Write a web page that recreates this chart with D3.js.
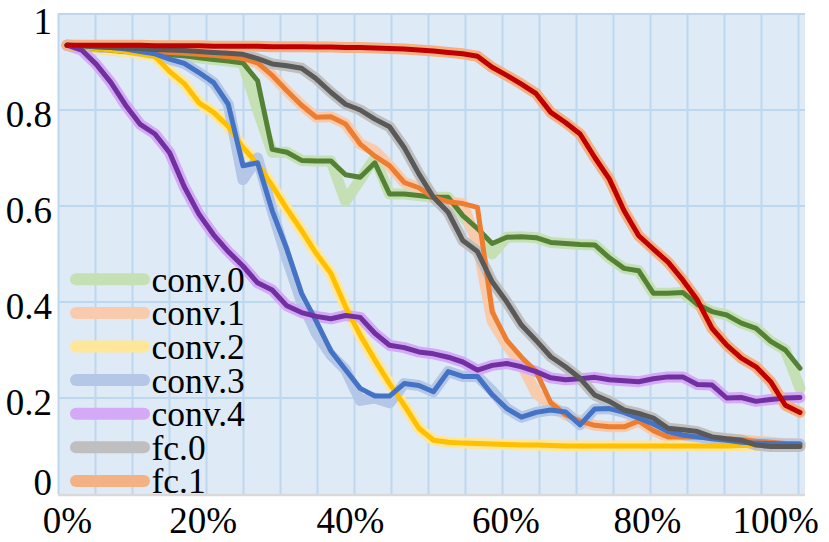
<!DOCTYPE html>
<html>
<head>
<meta charset="utf-8">
<script src="https://cdn.jsdelivr.net/npm/d3@7"></script>
<style>
  html, body { margin: 0; padding: 0; background: #fff; }
  svg text { font-family: "Liberation Serif", Tinos, "Times New Roman", "DejaVu Serif", serif; fill: #000; }
</style>
</head>
<body>
<div id="chart"></div>
<script>
// Pruned fraction (%) for each measurement
const pruned = [0, 2, 4, 6, 8, 10, 12, 14, 16, 18, 20, 22, 24, 26, 28, 30, 32, 34, 36, 38,
  40, 42, 44, 46, 48, 50, 52, 54, 56, 58, 60, 62, 64, 66, 68, 70, 72, 74, 76, 78,
  80, 82, 84, 86, 88, 90, 92, 94, 96, 98, 100];

// Smoothed curves (dark lines)
const conv0 = [0.935, 0.932, 0.928, 0.925, 0.922, 0.92, 0.918, 0.915, 0.913, 0.909,
  0.905, 0.902, 0.898, 0.861, 0.718, 0.712, 0.695, 0.694, 0.694, 0.665,
  0.66, 0.69, 0.625, 0.625, 0.622, 0.618, 0.618, 0.58, 0.553, 0.522,
  0.535, 0.536, 0.534, 0.524, 0.522, 0.52, 0.519, 0.492, 0.47, 0.465,
  0.418, 0.418, 0.42, 0.395, 0.38, 0.373, 0.356, 0.345, 0.318, 0.30, 0.262];
const conv1 = [0.935, 0.933, 0.93, 0.928, 0.926, 0.924, 0.922, 0.92, 0.918, 0.916,
  0.914, 0.911, 0.907, 0.898, 0.872, 0.84, 0.81, 0.785, 0.786, 0.771,
  0.729, 0.704, 0.684, 0.649, 0.638, 0.618, 0.609, 0.605, 0.597, 0.38,
  0.32, 0.285, 0.255, 0.19, 0.165, 0.152, 0.143, 0.14, 0.14, 0.152,
  0.132, 0.119, 0.119, 0.118, 0.117, 0.115, 0.113, 0.11, 0.108, 0.105, 0.104];
const conv2 = [0.935, 0.932, 0.928, 0.925, 0.922, 0.917, 0.912, 0.88, 0.855, 0.815,
  0.795, 0.766, 0.722, 0.688, 0.642, 0.594, 0.549, 0.501, 0.46, 0.39,
  0.331, 0.279, 0.23, 0.185, 0.137, 0.112, 0.108, 0.106, 0.105, 0.104,
  0.103, 0.102, 0.102, 0.101, 0.1, 0.1, 0.1, 0.1, 0.1, 0.1,
  0.1, 0.1, 0.1, 0.1, 0.1, 0.1, 0.101, 0.101, 0.101, 0.101, 0.101];
const conv3 = [0.935, 0.934, 0.932, 0.93, 0.927, 0.922, 0.917, 0.906, 0.897, 0.878,
  0.857, 0.812, 0.684, 0.69, 0.59, 0.51, 0.418, 0.36, 0.298, 0.259,
  0.22, 0.204, 0.204, 0.23, 0.226, 0.213, 0.255, 0.245, 0.245, 0.207,
  0.178, 0.16, 0.17, 0.175, 0.171, 0.144, 0.177, 0.178, 0.17, 0.158,
  0.146, 0.13, 0.123, 0.119, 0.115, 0.112, 0.108, 0.106, 0.105, 0.104, 0.104];
const conv4 = [0.935, 0.925, 0.895, 0.857, 0.81, 0.77, 0.75, 0.711, 0.64, 0.583,
  0.54, 0.505, 0.475, 0.44, 0.425, 0.392, 0.378, 0.37, 0.365, 0.372,
  0.368, 0.335, 0.31, 0.305, 0.296, 0.292, 0.285, 0.275, 0.258, 0.268,
  0.272, 0.265, 0.255, 0.242, 0.238, 0.24, 0.243, 0.238, 0.236, 0.234,
  0.24, 0.244, 0.244, 0.228, 0.227, 0.2, 0.201, 0.193, 0.197, 0.2, 0.201];
const fc0 = [0.935, 0.934, 0.932, 0.93, 0.929, 0.928, 0.926, 0.925, 0.924, 0.922,
  0.92, 0.918, 0.916, 0.907, 0.896, 0.892, 0.887, 0.865, 0.837, 0.812,
  0.80, 0.781, 0.765, 0.722, 0.667, 0.618, 0.587, 0.528, 0.505, 0.442,
  0.40, 0.352, 0.32, 0.286, 0.265, 0.241, 0.206, 0.193, 0.175, 0.168,
  0.158, 0.137, 0.134, 0.13, 0.119, 0.115, 0.112, 0.102, 0.099, 0.099, 0.099];
const fc1 = [0.935, 0.935, 0.935, 0.935, 0.935, 0.935, 0.934, 0.934, 0.934, 0.934,
  0.933, 0.933, 0.933, 0.933, 0.932, 0.932, 0.932, 0.931, 0.931, 0.93,
  0.93, 0.929, 0.928, 0.927, 0.925, 0.923, 0.92, 0.917, 0.912, 0.889,
  0.872, 0.854, 0.834, 0.795, 0.774, 0.75, 0.701, 0.656, 0.59, 0.538,
  0.51, 0.483, 0.446, 0.404, 0.345, 0.31, 0.283, 0.265, 0.234, 0.185, 0.17];

// Raw curves (pale lines) where they visibly differ from the smoothed ones
const conv0Raw = [0.935, 0.932, 0.928, 0.925, 0.922, 0.92, 0.918, 0.915, 0.913, 0.909,
  0.905, 0.902, 0.898, 0.80, 0.712, 0.712, 0.695, 0.694, 0.694, 0.61,
  0.655, 0.70, 0.625, 0.625, 0.622, 0.618, 0.618, 0.58, 0.54, 0.50,
  0.535, 0.536, 0.534, 0.524, 0.522, 0.52, 0.519, 0.492, 0.47, 0.465,
  0.418, 0.418, 0.42, 0.395, 0.38, 0.373, 0.356, 0.345, 0.318, 0.30, 0.22];
const conv1Raw = [0.935, 0.933, 0.93, 0.928, 0.926, 0.924, 0.922, 0.92, 0.918, 0.916,
  0.914, 0.911, 0.907, 0.898, 0.872, 0.84, 0.81, 0.785, 0.786, 0.771,
  0.729, 0.715, 0.684, 0.649, 0.638, 0.618, 0.609, 0.605, 0.52, 0.36,
  0.31, 0.27, 0.21, 0.185, 0.165, 0.152, 0.143, 0.14, 0.14, 0.152,
  0.132, 0.119, 0.119, 0.118, 0.117, 0.115, 0.113, 0.11, 0.108, 0.105, 0.104];
const conv3Raw = [0.935, 0.934, 0.932, 0.93, 0.927, 0.922, 0.917, 0.906, 0.897, 0.878,
  0.857, 0.812, 0.655, 0.70, 0.59, 0.49, 0.40, 0.335, 0.29, 0.259,
  0.195, 0.20, 0.19, 0.23, 0.226, 0.213, 0.255, 0.245, 0.245, 0.215,
  0.178, 0.16, 0.17, 0.175, 0.171, 0.144, 0.177, 0.178, 0.17, 0.158,
  0.146, 0.13, 0.123, 0.119, 0.115, 0.112, 0.108, 0.106, 0.105, 0.104, 0.104];

const names = ['conv.0', 'conv.1', 'conv.2', 'conv.3', 'conv.4', 'fc.0', 'fc.1'];
const darkValues = [conv0, conv1, conv2, conv3, conv4, fc0, fc1];
const paleValues = [conv0Raw, conv1Raw, conv2, conv3Raw, conv4, fc0, fc1];

const yTicks = [0, 0.2, 0.4, 0.6, 0.8, 1];
const xTickAt = [0, 18.5, 38.6, 59.8, 79.1, 96.6];
const xTickLabels = ['0%', '20%', '40%', '60%', '80%', '100%'];

// Colours
const DARK = ['#548235', '#ed7d31', '#ffc000', '#4472c4', '#7030a0', '#595959', '#c00000'];
const PALE = ['#c5e0b4', '#f8cbad', '#ffe699', '#b4c7e7', '#d4a9f5', '#bfbfbf', '#f4b183'];
const BG = '#deebf7';
const GRID = '#bdd7ee';

const W = 829, H = 542;
const plot = { left: 58, right: 805, top: 14, bottom: 494 };

const svg = d3.select('#chart').append('svg')
  .attr('width', W)
  .attr('height', H)
  .attr('viewBox', `0 0 ${W} ${H}`);

const x = d3.scaleLinear().domain([0, 100]).range([67, 800]);
const y = d3.scaleLinear().domain([0, 1]).range([plot.bottom, plot.top]);
const gridX = d3.scaleLinear().domain([0, 20]).range([58.5, 798.5]);

// Plot background
svg.append('rect')
  .attr('x', plot.left)
  .attr('y', plot.top)
  .attr('width', plot.right - plot.left)
  .attr('height', plot.bottom - plot.top)
  .attr('fill', BG);

// Gridlines
svg.append('g')
  .selectAll('line')
  .data(d3.range(0, 21))
  .join('line')
  .attr('x1', d => gridX(d))
  .attr('x2', d => gridX(d))
  .attr('y1', plot.top)
  .attr('y2', plot.bottom)
  .attr('stroke', GRID)
  .attr('stroke-width', 2);

svg.append('g')
  .selectAll('line')
  .data(yTicks.filter(d => d > 0))
  .join('line')
  .attr('x1', plot.left)
  .attr('x2', plot.right)
  .attr('y1', d => y(d))
  .attr('y2', d => y(d))
  .attr('stroke', GRID)
  .attr('stroke-width', 2);

// Bottom axis line
svg.append('line')
  .attr('x1', plot.left)
  .attr('x2', plot.right)
  .attr('y1', plot.bottom + 1)
  .attr('y2', plot.bottom + 1)
  .attr('stroke', '#d9d9d9')
  .attr('stroke-width', 2.5);

const line = d3.line()
  .x((d, i) => x(pruned[i]))
  .y(d => y(d));

// Pale (raw) lines first, then dark (smoothed) lines on top
svg.append('g')
  .selectAll('path')
  .data(paleValues)
  .join('path')
  .attr('d', line)
  .attr('fill', 'none')
  .attr('stroke', (d, i) => PALE[i])
  .attr('stroke-width', 11)
  .attr('stroke-linejoin', 'round')
  .attr('stroke-linecap', 'round');

svg.append('g')
  .selectAll('path')
  .data(darkValues)
  .join('path')
  .attr('d', line)
  .attr('fill', 'none')
  .attr('stroke', (d, i) => DARK[i])
  .attr('stroke-width', 5)
  .attr('stroke-linejoin', 'round')
  .attr('stroke-linecap', 'round');

// Y axis labels (kept inside the picture at both ends)
const yAxis = svg.append('g')
  .attr('transform', 'translate(52,0)')
  .call(d3.axisLeft(y)
    .tickValues(yTicks)
    .tickSize(0)
    .tickPadding(0)
    .tickFormat(d => String(+d.toFixed(1))));
yAxis.attr('font-family', null);
yAxis.select('.domain').remove();
yAxis.selectAll('text')
  .attr('dy', d => Math.max(33, Math.min(y(d) + 16.5, 494)) - y(d))
  .style('font-size', '37px');

// X axis labels
const xAxis = svg.append('g')
  .attr('transform', `translate(0,${plot.bottom})`)
  .call(d3.axisBottom(x)
    .tickValues(xTickAt)
    .tickSize(0)
    .tickFormat((d, i) => xTickLabels[i]));
xAxis.attr('font-family', null);
xAxis.select('.domain').remove();
xAxis.selectAll('text')
  .attr('y', 39)
  .attr('dy', null)
  .style('font-size', '37px');

// Legend
const legend = svg.append('g')
  .selectAll('g')
  .data(names)
  .join('g')
  .attr('transform', (d, i) => `translate(0,${279.3 + i * 33.6})`);

legend.append('line')
  .attr('x1', 76)
  .attr('x2', 144)
  .attr('stroke', (d, i) => PALE[i])
  .attr('stroke-width', 12)
  .attr('stroke-linecap', 'round');

legend.append('text')
  .attr('x', 151.5)
  .attr('y', 12.5)
  .style('font-size', '35.5px')
  .text(d => d);
</script>
</body>
</html>
